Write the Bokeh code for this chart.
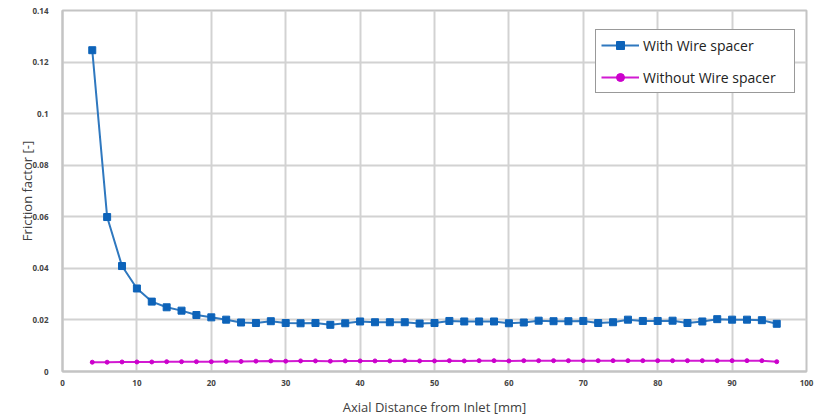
from bokeh.plotting import figure
from bokeh.models import FixedTicker, CustomJSTickFormatter, Legend, LegendItem
from bokeh.embed import file_html
from bokeh.resources import INLINE

x_mm = [4, 6, 8, 10, 12, 14, 16, 18, 20, 22, 24, 26, 28, 30, 32, 34, 36, 38, 40, 42,
        44, 46, 48, 50, 52, 54, 56, 58, 60, 62, 64, 66, 68, 70, 72, 74, 76, 78, 80, 82,
        84, 86, 88, 90, 92, 94, 96]
with_spacer = [0.1246, 0.0599, 0.0409, 0.0322, 0.0271, 0.0249, 0.0236, 0.0219, 0.0210, 0.0201,
               0.0190, 0.0188, 0.0195, 0.0188, 0.0187, 0.0188, 0.0181, 0.0187, 0.0194, 0.0191,
               0.0191, 0.0191, 0.0186, 0.0188, 0.0196, 0.0194, 0.0194, 0.0194, 0.0187, 0.0190,
               0.0197, 0.0195, 0.0195, 0.0196, 0.0188, 0.0191, 0.0201, 0.0196, 0.0196, 0.0197,
               0.0188, 0.0194, 0.0203, 0.0201, 0.0201, 0.0199, 0.0185]
without_spacer = [0.0036, 0.0036, 0.0037, 0.0037, 0.0037, 0.0038, 0.0038, 0.0038, 0.0038, 0.0039,
                  0.0039, 0.0040, 0.0041, 0.0040, 0.0041, 0.0041, 0.0040, 0.0041, 0.0041, 0.0041,
                  0.0041, 0.0042, 0.0041, 0.0041, 0.0042, 0.0041, 0.0042, 0.0042, 0.0041, 0.0042,
                  0.0042, 0.0042, 0.0042, 0.0042, 0.0042, 0.0042, 0.0042, 0.0042, 0.0042, 0.0042,
                  0.0042, 0.0042, 0.0042, 0.0042, 0.0042, 0.0042, 0.0038]
x_ticks = [0, 10, 20, 30, 40, 50, 60, 70, 80, 90, 100]
y_ticks = [0, 0.02, 0.04, 0.06, 0.08, 0.1, 0.12, 0.14]

p = figure(width=823, height=418, output_backend="svg", toolbar_location=None,
           x_range=(0, 100), y_range=(0, 0.14),
           min_border_left=62, min_border_right=17, min_border_top=10, min_border_bottom=45)
p.background_fill_color = "white"
p.border_fill_color = "white"
p.outline_line_color = "#c4c4c4"
p.outline_line_width = 2

for ax in (p.xaxis, p.yaxis):
    ax.axis_line_color = "#c4c4c4"
    ax.axis_line_width = 2
    ax.major_tick_line_color = None
    ax.minor_tick_line_color = None
    ax.major_label_text_font = "Open Sans"
    ax.major_label_text_font_size = "8px"
    ax.major_label_text_font_style = "bold"
    ax.major_label_text_color = "#444444"
    ax.axis_label_text_font = "Open Sans"
    ax.axis_label_text_font_size = "13px"
    ax.axis_label_text_font_style = "normal"
    ax.axis_label_text_color = "#404040"

p.xaxis.ticker = FixedTicker(ticks=x_ticks)
p.yaxis.ticker = FixedTicker(ticks=y_ticks)
p.yaxis.formatter = CustomJSTickFormatter(code="return parseFloat(tick.toFixed(4)).toString();")
p.xaxis.major_label_standoff = 2
p.yaxis.major_label_standoff = 8
p.xaxis.axis_label = "Axial Distance from Inlet [mm]"
p.yaxis.axis_label = "Friction factor [-]"
p.xaxis.axis_label_standoff = 9
p.yaxis.axis_label_standoff = -7

p.grid.grid_line_color = "#d2d2d2"
p.grid.grid_line_width = 2

blue_line = p.line(x_mm, with_spacer, line_color="#2f78bf", line_width=2)
blue_pts = p.scatter(x_mm, with_spacer, marker="square", size=7, fill_color="#0d63b9",
                     line_color="#0d63b9")
mag_line = p.line(x_mm, without_spacer, line_color="#d21ad2", line_width=2)
mag_pts = p.scatter(x_mm, without_spacer, marker="circle", size=4, fill_color="#cc00cc",
                    line_color="#cc00cc")

legend = Legend(items=[LegendItem(label="With Wire spacer", renderers=[blue_line, blue_pts]),
                       LegendItem(label="Without Wire spacer", renderers=[mag_line, mag_pts])],
                location=(533, 278))
legend.label_text_font = "Open Sans"
legend.label_text_font_size = "14px"
legend.label_text_color = "#222222"
legend.glyph_width = 38
legend.glyph_height = 20
legend.label_height = 20
legend.label_width = 146
legend.label_standoff = 4
legend.spacing = 12
legend.padding = 5
legend.margin = 0
legend.border_line_color = "#333333"
legend.border_line_width = 1
legend.background_fill_color = "white"
legend.background_fill_alpha = 1
p.add_layout(legend, "center")

open("out.html", "w").write(file_html(p, INLINE))
